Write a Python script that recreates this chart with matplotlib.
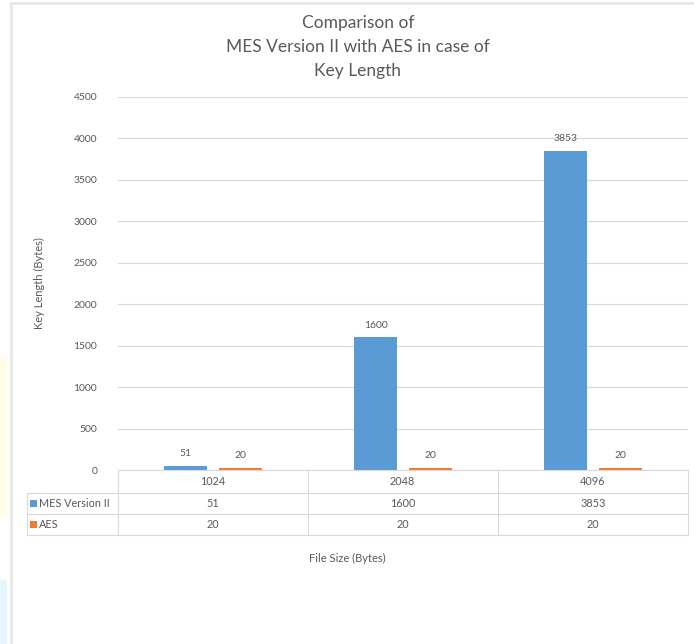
import matplotlib.pyplot as plt
import numpy as np
from matplotlib.lines import Line2D
from matplotlib.patches import Rectangle

# Data
file_sizes = ["1024", "2048", "4096"]
mes_values = [51, 1600, 3853]
aes_values = [20, 20, 20]
series_names = ["MES Version II", "AES"]
y_ticks = [0, 500, 1000, 1500, 2000, 2500, 3000, 3500, 4000, 4500]

blue = "#5B9BD5"
orange = "#ED7D31"
txt = "#595959"
grid_c = "#D9D9D9"
W, H = 694, 644

plt.rcParams["font.family"] = ["Lato", "DejaVu Sans"]

fig = plt.figure(figsize=(W / 100, H / 100), dpi=100)
fig.patch.set_facecolor("white")


def fx(px):
    return px / W


def fy(py):
    return 1 - py / H


# page frame / screenshot edge bits
fig.add_artist(Rectangle((0, fy(515)), fx(7), fy(355) - fy(515), color="#FFFDE3", lw=0))
fig.add_artist(Rectangle((0, 0), fx(7), fy(580), color="#E3F5FD", lw=0))
fig.add_artist(Line2D([fx(10.5), fx(10.5)], [0, fy(3)], color="#E6E6E6", lw=2))
fig.add_artist(Line2D([fx(10.5), 1], [fy(3), fy(3)], color="#E6E6E6", lw=2))

ax = fig.add_axes([fx(118), fy(470), fx(688) - fx(118), fy(97) - fy(470)])
x = np.arange(len(file_sizes))
bw = 0.227
off = 0.143
b1 = ax.bar(x - off, mes_values, bw, color=blue, zorder=3)
b2 = ax.bar(x + off, aes_values, bw, color=orange, zorder=3)
for bars, vals in ((b1, mes_values), (b2, aes_values)):
    for b, v in zip(bars, vals):
        ax.text(b.get_x() + b.get_width() / 2, v + 95, str(v), ha="center", va="bottom",
                fontsize=7.5, color=txt)

ax.set_xlim(-0.5, len(file_sizes) - 0.5)
ax.set_ylim(0, 4500)
ax.set_yticks(y_ticks)
ax.set_yticklabels([str(t) for t in y_ticks], fontsize=7.5, color=txt)
ax.tick_params(axis="y", length=0, pad=15)
ax.set_xticks([])
for s in ax.spines.values():
    s.set_visible(False)
ax.grid(axis="y", color=grid_c, lw=0.8, zorder=0)
ax.set_axisbelow(True)

ax.set_ylabel("Key Length (Bytes)", fontsize=8, color=txt)
ax.yaxis.set_label_coords(-0.128, 0.5)

# data table under the plot
row_y = [470, 493, 514, 535]
col_x = [118, 307.5, 497.5, 688]
lc = "#D9D9D9"
fig.add_artist(Line2D([fx(118), fx(688)], [fy(470), fy(470)], color=lc, lw=0.8))
for ry in row_y[1:]:
    fig.add_artist(Line2D([fx(27), fx(688)], [fy(ry), fy(ry)], color=lc, lw=0.8))
for cx in col_x:
    fig.add_artist(Line2D([fx(cx), fx(cx)], [fy(470), fy(535)], color=lc, lw=0.8))
fig.add_artist(Line2D([fx(27), fx(27)], [fy(493), fy(535)], color=lc, lw=0.8))

rows = [file_sizes, [str(v) for v in mes_values], [str(v) for v in aes_values]]
for r, vals in enumerate(rows):
    yc = (row_y[r] + row_y[r + 1]) / 2
    for c, v in enumerate(vals):
        xc = (col_x[c] + col_x[c + 1]) / 2
        fig.text(fx(xc), fy(yc), v, ha="center", va="center", fontsize=7.8, color=txt)

for i, (name, col) in enumerate(zip(series_names, [blue, orange])):
    yc = (row_y[i + 1] + row_y[i + 2]) / 2
    fig.add_artist(Rectangle((fx(30), fy(yc + 3.5)), fx(7), fy(yc - 3.5) - fy(yc + 3.5), color=col, lw=0))
    fig.text(fx(39), fy(yc), name, ha="left", va="center", fontsize=7.8, color=txt)

fig.text(fx(347), fy(558), "File Size (Bytes)", ha="center", va="center", fontsize=8, color=txt)
fig.text(fx(358), fy(47), "Comparison of\nMES Version II with AES in case of\nKey Length",
         ha="center", va="center", fontsize=12.5, color=txt, linespacing=1.6)

fig.savefig("out.png", dpi=100)
